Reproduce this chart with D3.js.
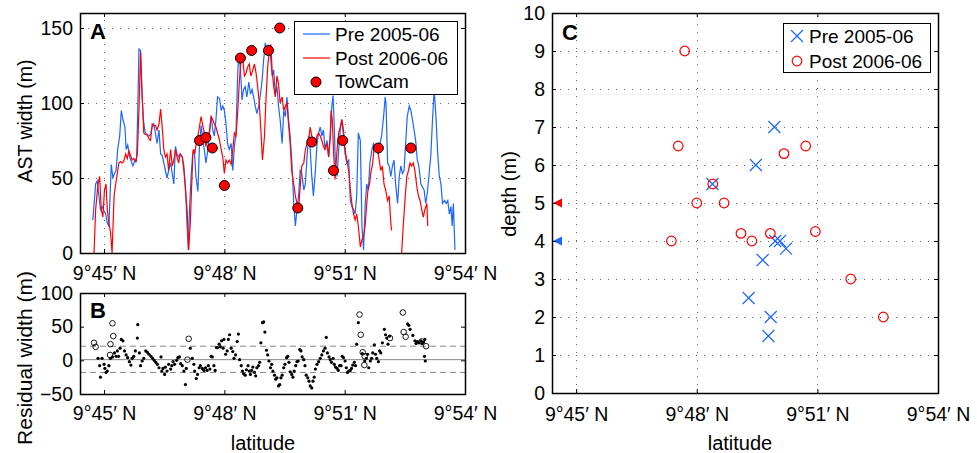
<!DOCTYPE html>
<html>
<head>
<meta charset="utf-8">
<script src="https://cdnjs.cloudflare.com/ajax/libs/d3/7.8.5/d3.min.js"></script>
<style>
body { margin: 0; background: #fff; }
text { font-family: 'Liberation Sans', Arial, sans-serif; }
</style>
</head>
<body>
<div id="container"></div>
<script>
// latitude is in arc minutes after 9 deg N
var latDomain = [44.4, 54],
    latTicks = [45, 48, 51, 54],
    widthTicks = [0, 50, 100, 150],
    residTicks = [-50, 0, 50, 100],
    depthTicks = [0, 1, 2, 3, 4, 5, 6, 7, 8, 9, 10];

// AST width (m) along axis, [lat, width]
var preAST = [
    [44.72,22],[44.79,46],[44.83,48],[44.91,29],[44.95,31],[45.00,28],[45.04,26],[45.08,20],[45.12,18],[45.18,59],
    [45.22,50],[45.26,53],[45.30,55],[45.34,69],[45.39,78],[45.43,95],[45.47,89],[45.52,84],[45.55,69],[45.59,72],
    [45.64,64],[45.68,61],[45.72,58],[45.77,62],[45.81,61],[45.84,95],[45.87,136],[45.91,135],[45.94,111],[45.98,89],
    [46.02,81],[46.08,78],[46.12,78],[46.16,79],[46.20,84],[46.24,86],[46.28,80],[46.32,73],[46.37,82],[46.41,66],
    [46.45,65],[46.49,60],[46.53,55],[46.57,50],[46.61,55],[46.66,60],[46.70,53],[46.74,46],
    [46.78,71],[46.82,66],[46.86,64],[46.90,66],[46.95,64],[46.99,58],[47.03,44],[47.07,18],[47.10,2],[47.13,29],
    [47.17,51],[47.21,66],[47.25,69],[47.29,51],[47.34,41],[47.38,73],[47.42,85],[47.46,76],[47.50,69],[47.54,60],
    [47.59,69],[47.63,80],[47.67,91],[47.71,82],[47.75,78],[47.79,89],[47.83,104],[47.88,103],[47.92,95],[47.96,98],
    [48.00,95],[48.04,86],[48.08,73],[48.12,69],[48.17,73],[48.21,55],[48.25,71],[48.29,80],[48.33,118],[48.36,133],
    [48.40,123],[48.44,102],[48.48,109],[48.52,111],[48.56,104],[48.61,114],[48.65,106],[48.69,109],[48.73,104],[48.77,98],
    [48.81,93],[48.86,98],[48.90,106],[48.94,115],[48.98,129],[49.02,140],[49.06,135],[49.10,138],[49.15,131],[49.19,118],
    [49.23,122],[49.27,106],[49.31,111],[49.35,98],[49.39,89],[49.44,73],[49.48,95],[49.52,91],[49.56,104],[49.60,89],
    [49.64,78],[49.68,62],[49.73,33],[49.77,18],[49.81,29],[49.85,38],[49.89,55],[49.93,53],[49.98,42],[50.02,46],
    [50.06,64],[50.10,78],[50.14,69],[50.18,51],[50.22,38],[50.27,55],[50.31,73],[50.35,80],[50.39,84],[50.43,78],
    [50.47,82],[50.51,69],[50.56,75],[50.60,64],[50.64,78],[50.68,98],[50.71,105],[50.74,84],[50.77,58],[50.81,51],
    [50.85,69],[50.89,82],[50.93,89],[50.97,78],[51.01,66],[51.05,60],[51.10,62],[51.14,35],[51.18,31],[51.22,29],
    [51.26,26],[51.30,38],[51.34,80],[51.39,75],[51.43,18],[51.47,2],
    [51.51,32],[51.55,46],[51.59,42],[51.63,60],[51.68,69],[51.72,73],[51.76,71],[51.80,69],[51.84,66],[51.88,73],
    [51.92,78],[51.97,91],[52.01,104],[52.03,100],[52.07,60],[52.11,58],[52.15,51],[52.19,58],[52.23,62],[52.27,46],
    [52.32,33],[52.36,51],[52.40,58],[52.44,53],[52.48,55],[52.52,73],[52.56,91],[52.61,98],[52.65,95],[52.69,89],
    [52.73,82],[52.77,75],[52.81,62],[52.85,58],[52.90,46],[52.94,44],[52.98,42],[53.02,33],[53.06,40],[53.10,51],
    [53.15,66],[53.19,89],[53.23,108],[53.25,102],[53.28,89],[53.32,66],[53.36,51],[53.40,46],[53.44,33],[53.49,35],
    [53.53,33],[53.57,35],[53.61,26],[53.65,31],[53.68,18],[53.71,33],[53.75,2]
];

var postAST = [
    [44.75,0],[44.79,29],[44.85,46],[44.89,51],[44.93,29],[44.97,24],[45.01,42],[45.05,46],[45.08,29],[45.12,20],
    [45.16,14],[45.20,0],[45.25,38],[45.29,46],[45.33,53],[45.37,60],[45.41,61],[45.45,60],[45.49,61],[45.54,66],
    [45.58,63],[45.62,68],[45.66,65],[45.70,62],[45.74,63],[45.78,61],[45.83,66],[45.87,95],[45.91,134],[45.95,104],
    [45.99,80],[46.03,79],[46.08,79],[46.12,76],[46.16,75],[46.20,86],[46.24,85],[46.28,85],[46.32,82],[46.37,86],
    [46.41,96],[46.45,84],[46.49,69],[46.53,64],[46.57,66],[46.61,55],[46.66,69],[46.70,58],[46.74,62],
    [46.78,69],[46.82,64],[46.86,60],[46.90,66],[46.95,64],[46.99,55],[47.03,42],[47.07,29],[47.11,2],[47.15,20],
    [47.18,42],[47.22,69],[47.26,66],[47.30,73],[47.34,78],[47.39,86],[47.42,91],[47.46,85],[47.50,80],[47.54,71],
    [47.59,76],[47.63,82],[47.67,91],[47.71,89],[47.75,86],[47.79,84],[47.83,80],[47.88,75],[47.92,69],[47.96,64],
    [48.00,53],[48.04,62],[48.08,60],[48.12,62],[48.17,59],[48.21,69],[48.25,80],[48.29,78],[48.33,93],[48.37,113],
    [48.42,131],[48.46,129],[48.50,118],[48.54,120],[48.58,124],[48.62,126],[48.66,118],[48.71,122],[48.75,126],[48.79,120],
    [48.83,111],[48.87,100],[48.91,82],[48.95,62],[49.00,78],[49.04,104],[49.08,124],[49.12,135],[49.16,139],[49.19,122],
    [49.23,111],[49.27,104],[49.31,118],[49.35,113],[49.39,100],[49.44,104],[49.48,95],[49.52,98],[49.56,100],[49.60,86],
    [49.64,73],[49.68,55],[49.73,46],[49.77,38],[49.81,33],[49.85,29],[49.89,44],[49.93,58],[49.98,60],[50.02,69],
    [50.06,73],[50.10,75],[50.14,84],[50.18,78],[50.22,75],[50.27,73],[50.31,78],[50.35,80],[50.39,78],[50.43,75],
    [50.47,71],[50.51,69],[50.56,73],[50.60,64],[50.64,78],[50.66,95],[50.69,89],[50.72,69],[50.76,49],[50.81,69],
    [50.85,80],[50.89,84],[50.93,89],[50.97,82],[51.01,69],[51.05,62],[51.10,55],[51.14,42],[51.18,33],[51.22,26],
    [51.26,22],[51.30,26],[51.34,18],[51.39,4],[51.43,9],[51.47,11],[51.51,18],[51.55,33],[51.58,42],[51.62,46],
    [51.66,55],[51.69,58],[51.73,69],[51.78,71],[51.82,69],[51.86,62],[51.90,55],[51.94,58],[51.98,46],[52.02,42],
    [52.07,35],[52.11,38],[52.15,20],[52.17,15],null,
    [52.42,0],[52.46,18],[52.51,38],[52.55,51],[52.59,55],[52.63,60],[52.67,58],[52.71,60],[52.75,55],[52.80,44],
    [52.84,38],[52.88,35],[52.92,29],[52.96,24],[53.00,29],[53.05,33],[53.07,18]
];

// TowCam widths, [lat, width]
var towCam = [
    [47.38,75],[47.54,77],[47.70,70],[48.00,45],[48.40,130],[48.68,135],[49.10,135],
    [49.38,150],[49.83,30],[50.18,74],[50.72,55],[50.95,75],[51.84,70],[52.65,70]
];

// residual width (m), [lat, residual]
var resid = [
    [44.85,3],[44.89,-8],[44.91,-25],[44.95,3],[45.00,-6],[45.02,-12],[45.05,-18],[45.08,-16],[45.12,-8],[45.16,3],
    [45.21,5],[45.26,11],[45.30,6],[45.33,14],[45.36,6],[45.40,18],[45.43,31],[45.47,29],[45.51,14],[45.55,8],
    [45.59,4],[45.63,-2],[45.67,-7],[45.70,3],[45.74,6],[45.78,14],[45.83,33],[45.84,53],[45.88,11],[45.91,-8],
    [45.95,-1],[45.99,3],[46.04,14],[46.08,12],[46.12,9],[46.17,6],[46.21,3],[46.25,0],[46.29,-3],[46.33,-6],
    [46.37,-11],[46.42,5],[46.44,-16],[46.47,-12],[46.51,-21],[46.53,-10],[46.57,-16],[46.61,-6],[46.66,-13],[46.69,-8],
    [46.72,-2],[46.76,-6],[46.81,0],[46.84,4],[46.88,5],[46.91,-5],[46.95,-8],[46.99,-16],[47.03,-36],[47.05,-12],
    [47.15,18],[47.20,3],[47.24,-6],[47.26,-16],[47.30,-27],[47.33,-21],[47.37,-11],[47.40,-8],[47.45,-12],[47.49,-15],
    [47.53,-11],[47.57,-15],[47.60,-8],[47.64,-13],[47.67,6],[47.70,5],[47.74,-8],[47.77,-15],[47.80,19],[47.83,19],
    [47.87,24],[47.90,20],[47.93,29],[47.97,18],[47.99,31],[48.03,9],[48.07,14],[48.10,31],[48.13,38],[48.17,18],
    [48.21,13],[48.24,3],[48.28,8],[48.32,28],[48.35,39],[48.38,1],[48.42,-8],[48.45,-16],[48.48,-20],[48.52,-22],
    [48.55,-14],[48.59,-8],[48.62,-16],[48.65,-21],[48.68,-15],[48.71,-10],[48.75,-18],[48.78,-23],[48.81,-11],[48.85,-8],
    [48.88,-3],[48.91,26],[48.95,56],[48.98,57],[49.01,42],[49.05,15],[49.08,8],[49.11,-1],[49.15,-11],[49.18,-6],
    [49.21,-16],[49.25,-22],[49.28,-28],[49.31,-26],[49.35,-38],[49.38,-36],[49.41,-26],[49.44,-22],[49.48,-11],[49.51,-6],
    [49.55,4],[49.58,6],[49.61,-3],[49.64,-17],[49.68,-21],[49.71,-25],[49.74,-16],[49.78,-8],[49.81,-2],[49.84,-1],
    [49.88,16],[49.91,14],[49.94,5],[49.98,1],[50.01,-8],[50.04,-22],[50.08,-26],[50.11,-31],[50.14,-38],[50.18,-41],
    [50.21,-31],[50.24,-25],[50.27,-13],[50.31,-6],[50.35,-2],[50.39,3],[50.43,8],[50.47,14],[50.51,18],[50.54,34],
    [50.57,11],[50.61,5],[50.64,1],[50.67,-3],[50.71,3],[50.74,-6],[50.77,-10],[50.81,-12],[50.84,-15],[50.87,-8],
    [50.91,-8],[50.94,6],[50.97,4],[51.01,-1],[51.04,-11],[51.07,-18],[51.10,-16],[51.14,-15],[51.17,-12],[51.20,-7],
    [51.24,-3],[51.27,-8],[51.30,24],[51.34,56],[51.44,10],[51.50,-1],[51.54,3],[51.57,9],[51.60,-11],[51.64,-1],
    [51.67,3],[51.70,11],[51.74,23],[51.77,9],[51.80,3],[51.84,-2],[51.87,14],[51.90,11],[51.94,26],[51.99,46],
    [52.02,38],[52.05,33],[52.08,24],[52.12,36],[52.57,54],[52.60,52],[52.63,46],[52.70,37],[52.75,29],[52.78,25],
    [52.81,28],[52.85,26],[52.90,29],[52.93,25],[52.96,27],[53.00,31],[52.99,6],[53.01,-1]
];
var residOpen = [
    [44.75,26],[44.79,20],[45.21,55],[45.23,36],[45.16,24],[45.15,8],[47.11,32],[47.08,1],[51.37,68],[51.40,38],
    [51.45,12],[51.50,6],[51.49,-7],[52.45,71],[52.47,42],[52.52,35],[52.13,33],[52.92,28],[53.03,21]
];
var residMean = 1,
    residBand = [21, -18];

// trough depth (m), [lat, depth]
var depthPre = [
    [48.39,5.5],[49.47,6.0],[49.93,7.0],[49.78,1.5],[49.84,2.0],[49.29,2.5],[49.64,3.5],[49.95,4.0],[50.07,4.0],[50.22,3.8]
];
var depthPost = [
    [47.37,4.0],[47.54,6.5],[47.70,9.0],[48.00,5.0],[48.40,5.5],[48.68,5.0],[49.10,4.2],[49.37,4.0],[49.83,4.2],
    [50.17,6.3],[50.71,6.5],[50.95,4.25],[51.83,3.0],[52.64,2.0]
];
var meanDepth = [4, 5]; // pre, post

var seriesNames = ['Pre 2005-06', 'Post 2006-06', 'TowCam'],
    blue = '#1a66ff',
    red = '#ff0000',
    font = "'Liberation Sans', Arial, sans-serif",
    tickFont = 19.5;

var svg = d3.select('#container')
    .append('svg')
    .attr('width', 977)
    .attr('height', 453);

var boxA = {l: 80, r: 465, t: 13, b: 253},
    boxB = {l: 80, r: 465, t: 293, b: 394},
    boxC = {l: 552, r: 938, t: 13, b: 393};

var xA = d3.scaleLinear().domain(latDomain).range([boxA.l, boxA.r]),
    yA = d3.scaleLinear().domain([0, 160]).range([boxA.b, boxA.t]),
    xB = d3.scaleLinear().domain(latDomain).range([boxB.l, boxB.r]),
    yB = d3.scaleLinear().domain([-50, 100]).range([boxB.b, boxB.t]),
    xC = d3.scaleLinear().domain(latDomain).range([boxC.l, boxC.r]),
    yC = d3.scaleLinear().domain([0, 10]).range([boxC.b, boxC.t]);

function latLabel(d) {
    return '9\u00b0' + d + '\u2032 N';
}

function grid(x, y, xt, yt, box) {
    var g = svg.append('g')
        .attr('stroke', '#666')
        .attr('stroke-width', 1)
        .attr('stroke-dasharray', '1,7');
    g.selectAll('.gx')
        .data(xt.filter(function(d) { return x(d) > box.l + 1 && x(d) < box.r - 1; }))
        .enter()
        .append('line')
        .attr('x1', function(d) { return Math.round(x(d)) + 0.5; })
        .attr('x2', function(d) { return Math.round(x(d)) + 0.5; })
        .attr('y1', box.b)
        .attr('y2', box.t);
    g.selectAll('.gy')
        .data(yt.filter(function(d) { return y(d) > box.t + 1 && y(d) < box.b - 1; }))
        .enter()
        .append('line')
        .attr('y1', function(d) { return Math.round(y(d)) + 0.5; })
        .attr('y2', function(d) { return Math.round(y(d)) + 0.5; })
        .attr('x1', box.l)
        .attr('x2', box.r);
}

function frame(x, y, xt, yt, box, pad) {
    var sides = [
        [d3.axisBottom(x).tickValues(xt), 'translate(0,' + box.b + ')'],
        [d3.axisTop(x).tickValues(xt), 'translate(0,' + box.t + ')'],
        [d3.axisLeft(y).tickValues(yt), 'translate(' + box.l + ',0)'],
        [d3.axisRight(y).tickValues(yt), 'translate(' + box.r + ',0)']
    ];
    sides.forEach(function(s) {
        var g = svg.append('g')
            .attr('transform', s[1])
            .call(s[0].tickSize(-4).tickFormat(''));
        g.select('.domain').remove();
    });

    svg.append('rect')
        .attr('x', box.l + 0.5)
        .attr('y', box.t + 0.5)
        .attr('width', box.r - box.l)
        .attr('height', box.b - box.t)
        .attr('fill', 'none')
        .attr('stroke', '#000')
        .attr('stroke-width', 1.5);

    var bx = svg.append('g')
        .attr('transform', 'translate(0,' + box.b + ')')
        .call(d3.axisBottom(x).tickValues(xt).tickSize(0).tickPadding(pad).tickFormat(latLabel));
    bx.select('.domain').remove();
    bx.attr('font-family', font).attr('font-size', tickFont);

    var by = svg.append('g')
        .attr('transform', 'translate(' + box.l + ',0)')
        .call(d3.axisLeft(y).tickValues(yt).tickSize(0).tickPadding(7));
    by.select('.domain').remove();
    by.attr('font-family', font).attr('font-size', tickFont);
}

function addText(x, y, str, opts) {
    var t = svg.append('text')
        .attr('x', x)
        .attr('y', y)
        .attr('font-size', opts.size || 19.5)
        .attr('text-anchor', opts.anchor || 'start')
        .text(str);
    if (opts.bold) t.attr('font-weight', 'bold');
    if (opts.rotate) t.attr('transform', 'rotate(-90,' + x + ',' + y + ')');
    return t;
}

// ---------- panel A ----------
grid(xA, yA, latTicks, widthTicks, boxA);

svg.append('clipPath')
    .attr('id', 'clipA')
    .append('rect')
    .attr('x', boxA.l)
    .attr('y', boxA.t)
    .attr('width', boxA.r - boxA.l)
    .attr('height', boxA.b - boxA.t);

var lineA = d3.line()
    .defined(function(d) { return d !== null; })
    .x(function(d) { return xA(d[0]); })
    .y(function(d) { return yA(d[1]); });

var plotA = svg.append('g').attr('clip-path', 'url(#clipA)');
plotA.append('path')
    .datum(preAST)
    .attr('d', lineA)
    .attr('fill', 'none')
    .attr('stroke', blue)
    .attr('stroke-width', 1.2);
plotA.append('path')
    .datum(postAST)
    .attr('d', lineA)
    .attr('fill', 'none')
    .attr('stroke', red)
    .attr('stroke-width', 1.2);
plotA.selectAll('.tow')
    .data(towCam)
    .enter()
    .append('circle')
    .attr('cx', function(d) { return xA(d[0]); })
    .attr('cy', function(d) { return yA(d[1]); })
    .attr('r', 5)
    .attr('fill', red)
    .attr('stroke', '#000')
    .attr('stroke-width', 1);

frame(xA, yA, latTicks, widthTicks, boxA, 13);

// legend A
var legA = svg.append('g').attr('transform', 'translate(294,21)');
legA.append('rect')
    .attr('x', 0.5).attr('y', 0.5)
    .attr('width', 163).attr('height', 73)
    .attr('fill', '#fff')
    .attr('stroke', '#000');
[blue, red].forEach(function(c, i) {
    legA.append('line')
        .attr('x1', 9).attr('x2', 36)
        .attr('y1', 13 + i * 24).attr('y2', 13 + i * 24)
        .attr('stroke', c)
        .attr('stroke-width', 1.2);
});
legA.append('circle')
    .attr('cx', 22).attr('cy', 61).attr('r', 5)
    .attr('fill', red).attr('stroke', '#000');
legA.selectAll('.lt')
    .data(seriesNames)
    .enter()
    .append('text')
    .attr('x', 41)
    .attr('y', function(d, i) { return 20 + i * 23.5; })
    .attr('font-size', 19)
    .text(function(d) { return d; });

addText(90, 39, 'A', {size: 22, bold: true});
addText(32, 121, 'AST width (m)', {anchor: 'middle', rotate: true});

// ---------- panel B ----------
svg.append('line')
    .attr('x1', boxB.l).attr('x2', boxB.r)
    .attr('y1', yB(residMean)).attr('y2', yB(residMean))
    .attr('stroke', '#888');
svg.selectAll('.band')
    .data(residBand)
    .enter()
    .append('line')
    .attr('x1', boxB.l).attr('x2', boxB.r)
    .attr('y1', function(d) { return yB(d); })
    .attr('y2', function(d) { return yB(d); })
    .attr('stroke', '#888')
    .attr('stroke-dasharray', '6,4');

svg.selectAll('.rdot')
    .data(resid)
    .enter()
    .append('circle')
    .attr('cx', function(d) { return xB(d[0]); })
    .attr('cy', function(d) { return yB(d[1]); })
    .attr('r', 1.6)
    .attr('fill', '#000');
svg.selectAll('.ropen')
    .data(residOpen)
    .enter()
    .append('circle')
    .attr('cx', function(d) { return xB(d[0]); })
    .attr('cy', function(d) { return yB(d[1]); })
    .attr('r', 2.8)
    .attr('fill', 'none')
    .attr('stroke', '#000')
    .attr('stroke-width', 0.9);

frame(xB, yB, latTicks, residTicks, boxB, 12);

addText(90, 318, 'B', {size: 22, bold: true});
addText(32, 358, 'Residual width (m)', {anchor: 'middle', rotate: true, size: 21});
addText(263, 450, 'latitude', {anchor: 'middle', size: 20});

// ---------- panel C ----------
grid(xC, yC, latTicks, depthTicks, boxC);

svg.selectAll('.cpre')
    .data(depthPre)
    .enter()
    .append('path')
    .attr('transform', function(d) { return 'translate(' + xC(d[0]) + ',' + yC(d[1]) + ')'; })
    .attr('d', 'M-6,-6L6,6M-6,6L6,-6')
    .attr('stroke', blue)
    .attr('stroke-width', 1.2);
svg.selectAll('.cpost')
    .data(depthPost)
    .enter()
    .append('circle')
    .attr('cx', function(d) { return xC(d[0]); })
    .attr('cy', function(d) { return yC(d[1]); })
    .attr('r', 4.8)
    .attr('fill', 'none')
    .attr('stroke', red)
    .attr('stroke-width', 1.2);

// mean depth markers on the left edge
svg.selectAll('.mean')
    .data(meanDepth)
    .enter()
    .append('path')
    .attr('transform', function(d) { return 'translate(' + (xC(latDomain[0]) + 1) + ',' + yC(d) + ')'; })
    .attr('d', 'M0,0L9,-4.5L9,4.5Z')
    .attr('fill', function(d, i) { return i === 0 ? blue : red; });

frame(xC, yC, latTicks, depthTicks, boxC, 14);

// legend C
var legC = svg.append('g').attr('transform', 'translate(783,23)');
legC.append('rect')
    .attr('x', 0.5).attr('y', 0.5)
    .attr('width', 147).attr('height', 49)
    .attr('fill', '#fff')
    .attr('stroke', '#000');
legC.append('path')
    .attr('transform', 'translate(14,13)')
    .attr('d', 'M-6,-6L6,6M-6,6L6,-6')
    .attr('stroke', blue)
    .attr('stroke-width', 1.2);
legC.append('circle')
    .attr('cx', 14).attr('cy', 38).attr('r', 4.8)
    .attr('fill', 'none')
    .attr('stroke', red)
    .attr('stroke-width', 1.2);
legC.selectAll('.lt')
    .data(seriesNames.slice(0, 2))
    .enter()
    .append('text')
    .attr('x', 26)
    .attr('y', function(d, i) { return 20 + i * 24.5; })
    .attr('font-size', 19)
    .text(function(d) { return d; });

addText(562, 40, 'C', {size: 22, bold: true});
addText(516, 194, 'depth (m)', {anchor: 'middle', rotate: true, size: 20});
addText(740, 450, 'latitude', {anchor: 'middle', size: 20});
</script>
</body>
</html>
